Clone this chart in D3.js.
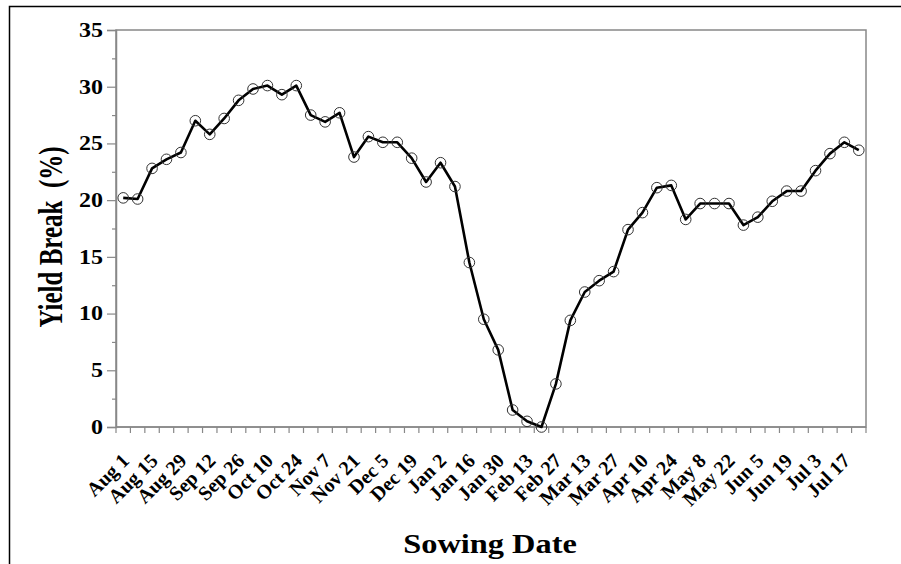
<!DOCTYPE html>
<html><head><meta charset="utf-8">
<script src="https://cdn.jsdelivr.net/npm/d3@7"></script>
<style>body{margin:0;background:#fff}svg{display:block}</style>
</head><body>
<script>
const categories = ["Aug 1","Aug 8","Aug 15","Aug 22","Aug 29","Sep 5","Sep 12","Sep 19","Sep 26","Oct 3","Oct 10","Oct 17","Oct 24","Oct 31","Nov 7","Nov 14","Nov 21","Nov 28","Dec 5","Dec 12","Dec 19","Dec 26","Jan 2","Jan 9","Jan 16","Jan 23","Jan 30","Feb 6","Feb 13","Feb 20","Feb 27","Mar 6","Mar 13","Mar 20","Mar 27","Apr 3","Apr 10","Apr 17","Apr 24","May 1","May 8","May 15","May 22","May 29","Jun 5","Jun 12","Jun 19","Jun 26","Jul 3","Jul 10","Jul 17","Jul 24"];
const yieldBreak = [20.2,20.1,22.8,23.6,24.2,27.0,25.8,27.2,28.8,29.8,30.1,29.3,30.1,27.5,26.9,27.7,23.8,25.6,25.1,25.1,23.7,21.6,23.3,21.2,14.5,9.5,6.8,1.5,0.5,0.0,3.8,9.4,11.9,12.9,13.7,17.4,18.9,21.1,21.3,18.3,19.7,19.7,19.7,17.8,18.5,19.9,20.8,20.8,22.6,24.1,25.1,24.4];
const yTicks = [0,5,10,15,20,25,30,35];
const yMinorTicks = [2.5,7.5,12.5,17.5,22.5,27.5,32.5];

const W = 901, H = 564;
const L = 116, R = 866, T = 30, B = 427;
const SX = 1.2; // horizontal stretch of horizontal text, as in the reference
const svg = d3.select("body").append("svg").attr("width", W).attr("height", H);
const font = "'Liberation Serif','Times New Roman',serif";

svg.append("rect").attr("x",9.5).attr("y",6.5).attr("width",W).attr("height",H).attr("fill","none").attr("stroke","#000").attr("stroke-width",1.5);

const x = d3.scaleBand().domain(categories).range([L, R]).padding(0);
const y = d3.scaleLinear().domain([0,35]).range([B, T]);

// plot frame
svg.append("rect").attr("x",L).attr("y",T).attr("width",R-L).attr("height",B-T).attr("fill","none").attr("stroke","#888").attr("stroke-width",1.5);

// y axis
const yAxis = svg.append("g").attr("transform",`translate(${L},0)`)
  .call(d3.axisLeft(y).tickValues(yTicks).tickSize(9).tickPadding(4).tickFormat(d3.format("d")));
yAxis.select(".domain").attr("stroke","#888").attr("stroke-width",1.5);
yAxis.selectAll(".tick line").attr("stroke","#888").attr("stroke-width",1.2);
yAxis.selectAll(".tick text").attr("font-family",font).attr("font-weight","bold").attr("font-size",20).attr("fill","#000")
  .attr("x", -13/SX).attr("transform",`scale(${SX},1)`);
const yMinor = svg.append("g").attr("transform",`translate(${L},0)`)
  .call(d3.axisLeft(y).tickValues(yMinorTicks).tickSize(4).tickFormat(""));
yMinor.select(".domain").remove();
yMinor.selectAll(".tick line").attr("stroke","#888").attr("stroke-width",1.2);

// x axis: tick marks at band boundaries
const xAxisG = svg.append("g").attr("transform",`translate(0,${B})`);
xAxisG.append("line").attr("x1",L).attr("x2",R).attr("stroke","#888").attr("stroke-width",1.5);
const bounds = categories.map(c => x(c)).concat([x(categories[categories.length-1]) + x.bandwidth()]);
xAxisG.selectAll("line.tk").data(bounds).join("line").attr("class","tk")
  .attr("x1",d=>d).attr("x2",d=>d).attr("y1",0).attr("y2",6).attr("stroke","#888").attr("stroke-width",1.2);

// x labels every other category
const labelCats = categories.filter((c,i)=> i%2===0);
svg.append("g").selectAll("text").data(labelCats).join("text")
  .attr("transform", d => `translate(${x(d)+x.bandwidth()/2+7},${B+35}) rotate(-45)`)
  .attr("text-anchor","end").attr("font-family",font).attr("font-weight","bold").attr("font-size",20)
  .text(d=>d);

// line
const cx = d => x(d) + x.bandwidth()/2;
svg.append("path").datum(yieldBreak)
  .attr("d", d3.line().x((v,i)=>cx(categories[i])).y(v=>y(v)))
  .attr("fill","none").attr("stroke","#000").attr("stroke-width",2.6).attr("stroke-linejoin","round");
svg.append("g").selectAll("circle").data(yieldBreak).join("circle")
  .attr("cx",(v,i)=>cx(categories[i])).attr("cy",v=>y(v)).attr("r",5.3)
  .attr("fill","none").attr("stroke","#333").attr("stroke-width",1);

// titles
svg.append("text").attr("transform",`translate(490,553) scale(${SX},1)`).attr("text-anchor","middle")
  .attr("font-family",font).attr("font-weight","bold").attr("font-size",27).text("Sowing Date");
svg.append("text").attr("transform",`translate(62,237) scale(1.35,1) rotate(-90)`).attr("text-anchor","middle")
  .attr("font-family",font).attr("font-weight","bold").attr("font-size",25).attr("xml:space","preserve").text("Yield Break  (%)");
</script>
</body></html>
